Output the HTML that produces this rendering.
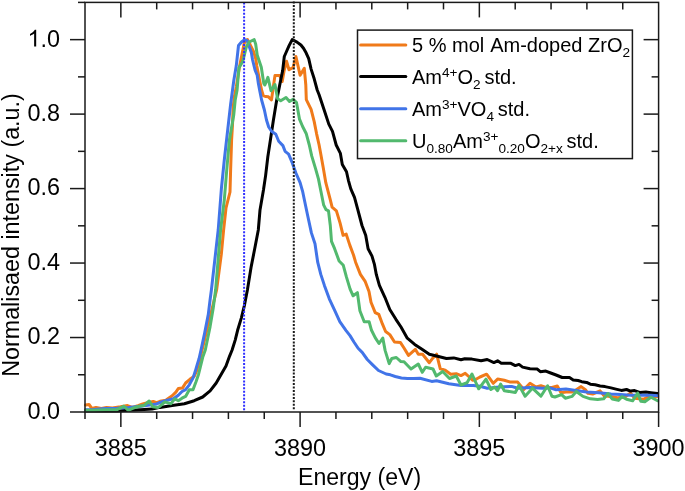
<!DOCTYPE html>
<html><head><meta charset="utf-8"><style>
html,body{margin:0;padding:0;background:#fff;}
svg{display:block;}
text{font-family:"Liberation Sans",sans-serif;fill:#000;}
</style></head><body>
<svg width="685" height="491" viewBox="0 0 685 491">
<rect width="685" height="491" fill="#fff"/>
<g opacity="0.999">
<g fill="none" stroke-width="3.0" stroke-linejoin="round" stroke-linecap="round">
<polyline stroke="#F07A1A" points="85.5,405.0 89.0,404.5 91.9,408.5 96.0,407.4 101.3,408.5 106.5,407.6 112.4,408.0 120.5,406.8 127.5,405.6 132.2,407.4 138.0,405.6 142.7,403.9 147.4,402.7 153.2,401.5 156.7,402.7 160.0,401.3 166.1,400.1 172.2,395.8 175.9,392.1 178.3,388.5 182.6,387.9 185.6,383.0 189.9,379.3 194.2,376.3 196.6,370.8 199.1,362.2 202.1,350.0 216.6,290.0 221.3,254.4 223.6,230.0 226.0,208.0 230.0,192.0 230.6,170.5 231.6,140.0 232.5,125.0 233.1,108.0 234.3,97.0 236.3,87.0 239.2,68.4 242.0,54.2 244.2,43.3 245.7,40.6 247.5,39.6 250.0,44.3 253.5,51.4 255.7,58.5 256.8,66.0 258.2,73.2 260.2,83.4 261.7,90.5 263.3,95.6 265.8,96.6 268.4,96.8 271.5,99.8 273.5,85.6 275.0,75.4 279.6,75.4 282.2,81.5 284.2,70.3 286.5,61.3 289.0,69.7 293.2,67.4 295.9,56.5 300.1,75.2 304.3,68.4 305.8,85.0 306.3,99.7 311.1,109.4 314.2,121.6 316.6,133.8 319.1,145.0 320.9,154.7 323.3,168.1 325.8,182.7 330.0,198.6 332.1,207.2 336.4,210.9 340.1,223.1 343.1,235.3 346.2,234.1 349.8,245.1 353.5,255.0 355.6,262.2 360.4,274.4 365.3,281.7 369.0,291.5 371.0,302.2 375.2,312.6 378.8,314.4 382.5,324.2 385.6,331.5 389.8,334.6 394.5,342.0 400.5,342.6 404.0,348.0 408.5,355.4 415.3,349.3 418.3,354.2 422.6,354.2 429.3,362.7 433.0,357.9 436.6,354.2 440.3,368.8 445.2,370.1 450.7,374.3 456.2,373.7 461.0,375.6 465.2,373.3 469.3,377.0 472.6,380.3 476.0,379.2 480.0,377.0 486.6,374.2 493.3,383.3 497.6,379.1 504.3,380.3 510.4,382.1 517.7,382.1 523.8,389.5 530.0,383.3 536.0,387.0 540.9,385.8 547.0,387.6 551.0,387.6 557.3,386.0 561.0,392.7 565.9,392.1 571.4,392.1 575.6,390.3 581.1,386.6 585.4,389.7 587.9,393.3 592.7,394.0 600.1,390.9 604.1,395.7 612.2,396.7 617.3,397.7 624.5,397.2 630.6,393.1 634.6,398.2 643.8,399.2 648.9,396.7 654.0,397.2 657.6,396.2"/>
<polyline stroke="#000000" points="85.5,411.0 117.0,410.9 128.7,410.3 140.4,409.7 152.1,409.1 160.0,407.4 172.2,405.6 184.4,403.7 194.2,400.7 202.7,397.0 210.1,390.9 216.2,383.0 221.1,374.4 226.0,365.9 229.6,356.1 232.1,350.0 235.2,340.1 237.6,330.3 241.3,318.1 244.3,305.9 247.4,290.0 251.2,266.6 254.8,248.3 258.3,230.0 260.0,210.0 263.5,189.8 265.6,175.6 267.8,157.0 270.4,140.0 273.3,120.7 276.5,101.2 279.6,85.6 282.7,70.3 284.3,56.5 286.5,51.5 289.1,45.6 292.2,39.6 297.0,42.1 300.9,45.0 303.5,48.3 306.1,52.8 308.7,58.7 311.1,69.1 314.2,78.8 317.2,90.0 319.1,94.8 324.0,109.4 328.8,124.1 332.5,131.4 336.2,145.0 340.4,153.4 342.3,164.4 346.5,171.7 348.4,180.3 350.8,188.8 354.5,197.4 357.8,209.7 362.0,225.5 365.7,235.3 368.1,248.7 372.0,256.1 374.5,264.7 376.3,274.4 379.4,285.4 384.9,297.3 389.8,309.5 395.9,319.3 401.0,327.0 407.3,338.2 414.7,344.4 422.0,349.3 429.3,354.2 436.6,356.0 446.4,358.5 453.7,357.9 461.0,359.7 464.7,358.8 472.0,359.1 481.1,360.8 487.2,359.5 493.9,362.6 497.6,360.8 501.3,363.2 510.4,363.2 515.3,365.6 519.0,364.4 522.6,367.1 530.0,368.7 537.3,369.1 540.3,371.7 545.8,371.1 550.7,373.0 556.1,375.0 562.2,377.5 569.5,377.5 573.2,379.9 578.1,380.5 581.7,381.7 586.6,382.4 590.3,384.2 595.2,384.8 600.1,386.0 605.0,386.6 611.0,387.9 615.9,389.1 621.4,390.4 626.5,389.5 630.6,391.1 634.6,390.6 639.7,392.4 645.8,392.1 650.9,392.8 657.6,393.6"/>
<polyline stroke="#4174E8" points="85.5,409.7 93.7,409.5 105.4,408.5 117.0,408.3 128.7,407.6 140.4,406.2 149.7,405.0 156.7,403.9 160.0,402.5 167.3,400.1 173.4,398.8 178.3,395.2 182.0,391.5 185.6,389.7 189.3,384.8 193.0,378.1 195.4,370.8 197.2,364.7 199.1,358.5 201.0,350.0 204.7,332.7 208.3,314.4 210.1,299.8 211.4,290.0 218.2,230.0 221.4,188.5 224.3,160.0 226.9,137.0 230.6,104.4 233.8,80.5 236.3,65.6 238.5,45.5 241.5,42.0 244.6,39.6 247.1,40.6 249.2,46.4 251.4,52.8 252.6,60.0 255.1,70.2 257.2,75.3 258.2,82.4 259.7,90.5 261.6,100.0 264.4,110.0 266.5,120.0 268.7,127.0 271.5,131.3 275.8,134.2 278.7,141.3 282.9,145.6 285.1,151.3 288.6,154.1 292.2,162.7 295.9,173.0 300.1,182.7 302.6,191.3 304.4,200.0 307.7,215.8 311.4,232.9 315.0,243.8 317.7,262.2 320.8,274.4 324.4,285.4 329.3,298.8 334.9,310.8 339.8,321.7 345.9,330.3 350.0,335.6 354.1,342.2 358.1,348.3 362.2,352.4 367.3,359.5 372.4,364.6 378.5,370.5 386.1,374.0 390.4,374.8 395.3,376.5 401.4,378.0 407.5,378.6 413.6,378.6 420.0,378.2 431.7,381.4 436.6,380.8 448.8,383.8 461.0,385.6 473.3,385.6 480.0,386.3 487.2,388.2 499.4,387.0 511.6,386.4 517.7,388.2 530.0,387.6 542.2,388.2 550.0,387.9 556.1,389.7 565.9,389.1 574.4,390.3 586.6,392.1 598.8,392.7 611.0,394.0 620.4,394.6 630.6,395.2 640.8,395.2 650.9,395.2 657.6,395.7"/>
<polyline stroke="#52B96E" points="85.5,410.3 93.7,410.3 105.4,409.7 117.0,409.7 124.0,406.2 128.1,410.3 133.4,408.0 139.2,406.2 143.9,405.6 149.2,401.0 152.7,406.8 157.9,407.4 160.0,406.2 164.9,401.9 171.0,403.7 174.7,398.8 178.3,400.7 182.0,398.2 185.6,396.4 189.3,389.7 193.0,389.7 196.0,381.7 198.5,374.4 200.3,367.1 202.7,357.3 205.3,350.0 207.1,341.3 210.1,326.6 213.2,308.3 215.6,290.0 220.6,230.0 224.3,200.0 226.7,170.5 229.4,140.0 231.9,125.5 233.7,115.3 235.2,100.0 237.1,90.0 238.9,67.9 242.6,61.8 246.3,47.1 249.2,42.0 254.2,39.6 255.7,44.3 257.2,55.0 261.3,67.2 263.8,83.5 264.9,85.0 267.9,77.4 271.0,90.7 275.0,84.5 277.6,98.8 280.7,100.8 286.0,97.5 289.5,101.5 293.2,99.2 296.5,102.5 299.5,119.2 302.6,126.5 306.3,133.8 309.3,145.0 311.7,155.9 315.4,168.1 318.5,179.1 320.9,191.3 323.6,204.8 326.0,209.7 328.5,210.9 330.3,225.5 331.5,241.4 334.6,248.7 339.1,261.0 343.3,265.3 346.4,276.9 350.1,289.1 353.1,295.8 357.4,292.7 359.9,310.8 364.2,321.7 369.1,321.7 371.5,330.3 375.2,337.6 379.0,343.5 382.8,338.1 385.1,350.4 389.2,363.6 391.8,358.5 396.3,357.5 400.9,361.6 404.0,361.8 411.0,369.0 418.3,364.0 422.3,372.3 425.6,367.2 433.0,369.0 436.3,376.0 442.7,371.5 449.5,378.5 456.2,376.0 461.0,385.0 467.2,382.6 472.0,374.0 478.7,388.8 486.0,379.1 490.9,389.5 494.5,387.0 497.6,390.7 500.6,384.0 504.3,390.7 515.3,392.5 519.0,385.2 525.1,396.2 532.4,388.2 540.9,396.2 547.6,385.8 551.9,396.2 554.9,397.0 561.6,394.6 565.3,398.2 572.0,396.4 576.3,391.5 583.0,396.4 590.3,398.8 597.6,399.5 603.7,398.8 608.0,393.5 612.3,399.0 618.4,400.4 622.0,396.6 626.5,399.2 632.6,400.8 637.7,393.1 640.8,401.3 644.8,401.8 650.9,397.2 657.6,400.8"/>
</g>
<g stroke-width="2" stroke-dasharray="2 1.468">
<line x1="244.1" y1="2.38" x2="244.1" y2="410.5" stroke="#3030ff"/>
<line x1="293.8" y1="1.53" x2="293.8" y2="410.5" stroke="#1a1a1a"/>
</g>
<g stroke="#1a1a1a" stroke-width="1.5" fill="none">
<rect x="85.0" y="2.4" width="573.60" height="409.6"/>
<line x1="70.0" y1="412.00" x2="85.0" y2="412.00"/><line x1="78.0" y1="374.76" x2="85.0" y2="374.76"/><line x1="658.6" y1="374.76" x2="651.6" y2="374.76"/><line x1="70.0" y1="337.53" x2="85.0" y2="337.53"/><line x1="658.6" y1="337.53" x2="643.6" y2="337.53"/><line x1="78.0" y1="300.29" x2="85.0" y2="300.29"/><line x1="658.6" y1="300.29" x2="651.6" y2="300.29"/><line x1="70.0" y1="263.05" x2="85.0" y2="263.05"/><line x1="658.6" y1="263.05" x2="643.6" y2="263.05"/><line x1="78.0" y1="225.82" x2="85.0" y2="225.82"/><line x1="658.6" y1="225.82" x2="651.6" y2="225.82"/><line x1="70.0" y1="188.58" x2="85.0" y2="188.58"/><line x1="658.6" y1="188.58" x2="643.6" y2="188.58"/><line x1="78.0" y1="151.35" x2="85.0" y2="151.35"/><line x1="658.6" y1="151.35" x2="651.6" y2="151.35"/><line x1="70.0" y1="114.11" x2="85.0" y2="114.11"/><line x1="658.6" y1="114.11" x2="643.6" y2="114.11"/><line x1="78.0" y1="76.87" x2="85.0" y2="76.87"/><line x1="658.6" y1="76.87" x2="651.6" y2="76.87"/><line x1="70.0" y1="39.64" x2="85.0" y2="39.64"/><line x1="658.6" y1="39.64" x2="643.6" y2="39.64"/><line x1="78.0" y1="2.40" x2="85.0" y2="2.40"/><line x1="85.00" y1="412.0" x2="85.00" y2="419.0"/><line x1="120.85" y1="412.0" x2="120.85" y2="427.0"/><line x1="120.85" y1="2.4" x2="120.85" y2="17.4"/><line x1="156.70" y1="412.0" x2="156.70" y2="419.0"/><line x1="156.70" y1="2.4" x2="156.70" y2="9.4"/><line x1="192.55" y1="412.0" x2="192.55" y2="419.0"/><line x1="192.55" y1="2.4" x2="192.55" y2="9.4"/><line x1="228.40" y1="412.0" x2="228.40" y2="419.0"/><line x1="228.40" y1="2.4" x2="228.40" y2="9.4"/><line x1="264.25" y1="412.0" x2="264.25" y2="419.0"/><line x1="264.25" y1="2.4" x2="264.25" y2="9.4"/><line x1="300.10" y1="412.0" x2="300.10" y2="427.0"/><line x1="300.10" y1="2.4" x2="300.10" y2="17.4"/><line x1="335.95" y1="412.0" x2="335.95" y2="419.0"/><line x1="335.95" y1="2.4" x2="335.95" y2="9.4"/><line x1="371.80" y1="412.0" x2="371.80" y2="419.0"/><line x1="371.80" y1="2.4" x2="371.80" y2="9.4"/><line x1="407.65" y1="412.0" x2="407.65" y2="419.0"/><line x1="407.65" y1="2.4" x2="407.65" y2="9.4"/><line x1="443.50" y1="412.0" x2="443.50" y2="419.0"/><line x1="443.50" y1="2.4" x2="443.50" y2="9.4"/><line x1="479.35" y1="412.0" x2="479.35" y2="427.0"/><line x1="479.35" y1="2.4" x2="479.35" y2="17.4"/><line x1="515.20" y1="412.0" x2="515.20" y2="419.0"/><line x1="515.20" y1="2.4" x2="515.20" y2="9.4"/><line x1="551.05" y1="412.0" x2="551.05" y2="419.0"/><line x1="551.05" y1="2.4" x2="551.05" y2="9.4"/><line x1="586.90" y1="412.0" x2="586.90" y2="419.0"/><line x1="586.90" y1="2.4" x2="586.90" y2="9.4"/><line x1="622.75" y1="412.0" x2="622.75" y2="419.0"/><line x1="622.75" y1="2.4" x2="622.75" y2="9.4"/><line x1="658.60" y1="412.0" x2="658.60" y2="427.0"/>
</g>
<g font-size="23.4">
<text x="60" y="418.90" text-anchor="end">0.0</text><text x="60" y="344.43" text-anchor="end">0.2</text><text x="60" y="269.95" text-anchor="end">0.4</text><text x="60" y="195.48" text-anchor="end">0.6</text><text x="60" y="121.01" text-anchor="end">0.8</text><text x="60" y="46.54" text-anchor="end">.0</text><path transform="translate(27.47,46.54) scale(0.011426,-0.011426)" d="M763 0L583 0L583 1147Q518 1085 412 1023Q306 961 222 930L222 1104Q373 1175 486 1276Q599 1377 646 1472L763 1472Z" fill="#000"/>
<text x="120.85" y="455.6" text-anchor="middle">3885</text><text x="300.10" y="455.6" text-anchor="middle">3890</text><text x="479.35" y="455.6" text-anchor="middle">3895</text><text x="658.60" y="455.6" text-anchor="middle">3900</text>
<text x="298" y="484.8" font-size="23.1">Energy (eV)</text>
<text transform="translate(18.7,376.8) rotate(-90)" font-size="23.3">Normalisaed intensity (a.u.)</text>
</g>
<g>
<rect x="357.5" y="30.1" width="274.9" height="128.5" fill="#fff" stroke="#1a1a1a" stroke-width="1.5"/>
<g stroke-width="3" stroke-linecap="round">
<line x1="360.6" y1="44.9" x2="405.8" y2="44.9" stroke="#F07A1A"/>
<line x1="360.6" y1="76.5" x2="405.8" y2="76.5" stroke="#000000"/>
<line x1="360.6" y1="108.8" x2="405.8" y2="108.8" stroke="#4174E8"/>
<line x1="360.6" y1="140.8" x2="405.8" y2="140.8" stroke="#52B96E"/>
</g>
<g font-size="20" opacity="0.999">
<text x="412" y="51.8">5 % mol <tspan dx="1.5">Am-doped ZrO</tspan><tspan font-size="13.6" dy="5.0">2</tspan></text>
<text x="412" y="83.8">Am<tspan font-size="13.6" dy="-7">4+</tspan><tspan dy="7">O</tspan><tspan font-size="13.6" dy="5.0">2 </tspan><tspan dy="-5.0">std.</tspan></text>
<text x="412" y="116">Am<tspan font-size="13.6" dy="-7">3+</tspan><tspan dy="7">VO</tspan><tspan font-size="13.6" dy="5.0">4 </tspan><tspan dy="-5.0">std.</tspan></text>
<text x="412" y="148">U<tspan font-size="13.6" dy="5.0">0.80</tspan><tspan dy="-5.0">Am</tspan><tspan font-size="13.6" dy="-7">3+</tspan><tspan font-size="13.6" dy="12.0">0.20</tspan><tspan dy="-5.0">O</tspan><tspan font-size="13.6" dy="5.0">2+x </tspan><tspan dy="-5.0">std.</tspan></text>
</g>
</g>
</g>
</svg>
</body></html>
